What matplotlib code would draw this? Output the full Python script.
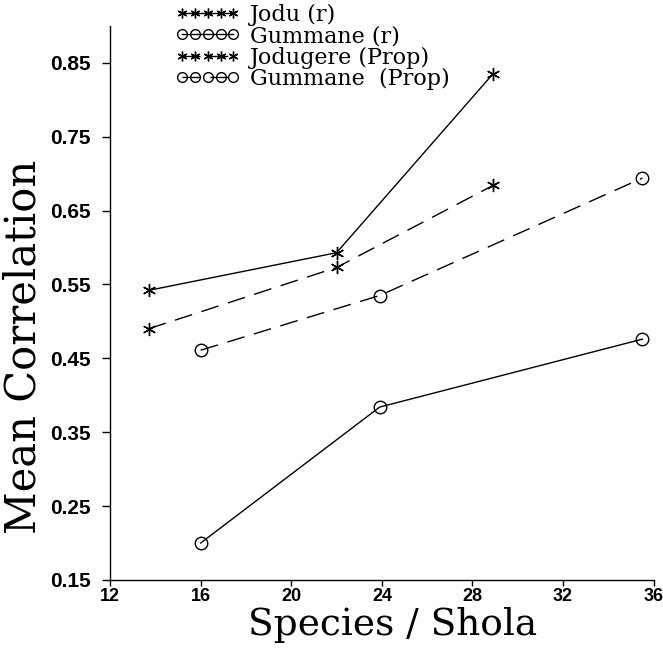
import matplotlib
matplotlib.use("Agg")
import matplotlib.pyplot as plt

# values
jodu_x = [13.7, 22.0, 28.9]
jodu_r = [0.542, 0.593, 0.835]
jodugere_x = [13.7, 22.0, 28.9]
jodugere_prop = [0.490, 0.573, 0.684]
gum_x = [16.0, 23.9, 35.5]
gum_r = [0.200, 0.384, 0.476]
gum_prop = [0.461, 0.535, 0.694]

x_ticks = [12, 16, 20, 24, 28, 32, 36]
y_ticks = [0.15, 0.25, 0.35, 0.45, 0.55, 0.65, 0.75, 0.85]

star = (6, 2, 0)
xtick_font = dict(family="Liberation Sans", weight="bold", size=13)
ytick_font = dict(family="Liberation Sans", weight="bold", size=15)


def main():
    fig = plt.figure(figsize=(6.63, 6.48), dpi=100)
    ax = fig.add_axes([0.166, 0.105, 0.820, 0.855])

    ax.plot(jodu_x, jodu_r, color="black", lw=1.0, marker=star, ms=9.5,
            mew=1.0, label="Jodu (r)")
    ax.plot(gum_x, gum_r, color="black", lw=1.0, marker="o", ms=9,
            mfc="none", mew=1.0, label="Gummane (r)")
    ax.plot(jodugere_x, jodugere_prop, color="black", lw=1.0, dashes=(13, 7),
            marker=star, ms=9.5, mew=1.0, label="Jodugere (Prop)")
    ax.plot(gum_x, gum_prop, color="black", lw=1.0, dashes=(13, 7),
            marker="o", ms=9, mfc="none", mew=1.0, label="Gummane  (Prop)")

    ax.set_xlim(12, 36)
    ax.set_ylim(0.15, 0.90)
    ax.set_xticks(x_ticks)
    ax.set_yticks(y_ticks)
    ax.set_xticklabels([str(v) for v in x_ticks], fontdict=xtick_font)
    ax.set_yticklabels(["%.2f" % v for v in y_ticks], fontdict=ytick_font)
    ax.tick_params(axis="x", direction="out", length=4, width=1.0, pad=1.5)
    ax.tick_params(axis="y", direction="out", length=6, width=1.0, pad=8)

    for side in ("top", "right"):
        ax.spines[side].set_visible(False)
    ax.spines["left"].set_linewidth(1.0)
    ax.spines["bottom"].set_linewidth(1.0)

    ax.set_xlabel("Species / Shola", family="DejaVu Serif", size=27)
    ax.xaxis.set_label_coords(0.52, -0.048)
    ax.set_ylabel("Mean Correlation", family="DejaVu Serif", size=30)
    ax.yaxis.set_label_coords(-0.12, 0.42)

    leg = ax.legend(loc="upper left", bbox_to_anchor=(0.10, 1.06),
                    frameon=False, numpoints=5, handlelength=2.9,
                    handletextpad=0.45, labelspacing=-0.03, borderpad=0,
                    prop=dict(family="DejaVu Serif", size=16))
    for line in leg.get_lines():
        line.set_markersize(7)

    fig.savefig("out.png", dpi=100)


if __name__ == "__main__":
    main()
